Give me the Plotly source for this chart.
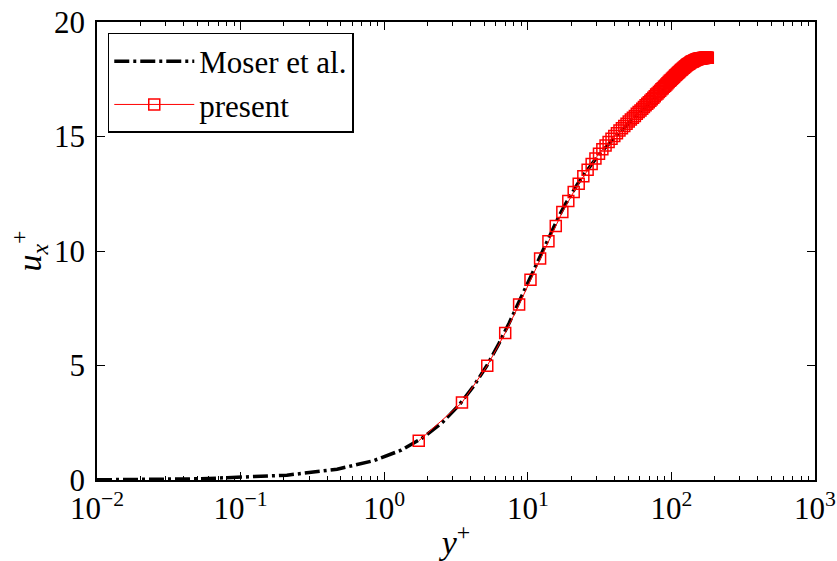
import plotly.graph_objects as go

# Reference DNS mean velocity profile (Moser, Kim & Mansour, Re_tau = 180)
moser_yplus = [0.01, 0.053, 0.21, 0.47, 0.84, 1.31, 1.88, 2.56, 3.34, 4.21, 5.18, 6.25,
               7.42, 8.67, 10.0, 11.4, 13.0, 14.6, 16.3, 18.1, 20.0, 22.0, 24.0, 26.1,
               28.3, 30.5, 32.8, 35.2, 37.6, 40.1, 42.6, 45.2, 47.8, 50.5, 53.2, 56.0,
               58.8, 61.6, 64.5, 67.3, 70.2, 73.2, 76.1, 79.1, 82.1, 85.1, 88.1, 91.1,
               94.1, 97.2, 100.2, 103.2, 106.2, 109.3, 112.3, 115.3, 118.3, 121.3, 124.2,
               127.2, 130.1, 133.0, 135.9, 138.7, 141.5, 144.2, 147.0, 149.6, 152.3, 154.9,
               157.4, 159.9, 162.3, 164.7, 167.0, 169.2, 171.4, 173.4, 175.4, 177.4, 178.1]
moser_uplus = [0.01, 0.053, 0.21, 0.47, 0.84, 1.30, 1.87, 2.53, 3.29, 4.11, 4.99, 5.92,
               6.86, 7.77, 8.63, 9.44, 10.19, 10.86, 11.46, 12.00, 12.47, 12.89, 13.25, 13.57,
               13.86, 14.12, 14.35, 14.57, 14.77, 14.95, 15.12, 15.28, 15.43, 15.57, 15.71, 15.84,
               15.97, 16.09, 16.21, 16.33, 16.44, 16.55, 16.66, 16.77, 16.87, 16.97, 17.07, 17.16,
               17.25, 17.34, 17.42, 17.50, 17.58, 17.65, 17.72, 17.79, 17.85, 17.91, 17.97,
               18.02, 18.07, 18.11, 18.15, 18.18, 18.21, 18.24, 18.26, 18.28, 18.30, 18.31,
               18.32, 18.33, 18.34, 18.35, 18.35, 18.36, 18.36, 18.36, 18.36, 18.36, 18.36]

# Present simulation, uniform wall-normal grid
present_yplus = [1.74, 3.48, 5.22, 6.96, 8.70, 10.44, 12.18, 13.92, 15.66, 17.40,
                 19.14, 20.88, 22.62, 24.36, 26.10, 27.84, 29.58, 31.32, 33.06, 34.80,
                 36.54, 38.28, 40.02, 41.76, 43.50, 45.24, 46.98, 48.72, 50.46, 52.20,
                 53.94, 55.68, 57.42, 59.16, 60.90, 62.64, 64.38, 66.12, 67.86, 69.60,
                 71.34, 73.08, 74.82, 76.56, 78.30, 80.04, 81.78, 83.52, 85.26, 87.00,
                 88.74, 90.48, 92.22, 93.96, 95.70, 97.44, 99.18, 100.92, 102.66, 104.40,
                 106.14, 107.88, 109.62, 111.36, 113.10, 114.84, 116.58, 118.32, 120.06, 121.80,
                 123.54, 125.28, 127.02, 128.76, 130.50, 132.24, 133.98, 135.72, 137.46, 139.20,
                 140.94, 142.68, 144.42, 146.16, 147.90, 149.64, 151.38, 153.12, 154.86, 156.60,
                 158.34, 160.08, 161.82, 163.56, 165.30, 167.04, 168.78, 170.52, 172.26, 174.00,
                 175.74, 177.48, 179.22]
present_uplus = [1.71, 3.38, 4.99, 6.42, 7.66, 8.74, 9.67, 10.43, 11.09, 11.70,
                 12.18, 12.58, 12.94, 13.26, 13.55, 13.80, 14.04, 14.25, 14.44, 14.61,
                 14.76, 14.90, 15.02, 15.14, 15.26, 15.36, 15.46, 15.56, 15.65, 15.74,
                 15.82, 15.90, 15.99, 16.07, 16.14, 16.21, 16.29, 16.36, 16.43, 16.50,
                 16.56, 16.63, 16.69, 16.76, 16.83, 16.88, 16.94, 17.00, 17.06, 17.11,
                 17.17, 17.22, 17.27, 17.33, 17.38, 17.43, 17.47, 17.52, 17.57, 17.61,
                 17.66, 17.70, 17.74, 17.78, 17.82, 17.86, 17.90, 17.93, 17.97, 18.00,
                 18.04, 18.07, 18.10, 18.13, 18.16, 18.18, 18.20, 18.23, 18.25, 18.27,
                 18.28, 18.30, 18.32, 18.33, 18.35, 18.36, 18.37, 18.38, 18.39, 18.40,
                 18.41, 18.41, 18.42, 18.42, 18.43, 18.43, 18.43, 18.44, 18.44, 18.44,
                 18.44, 18.44, 18.44]

x_major = [1e-2, 1e-1, 1e0, 1e1, 1e2, 1e3]
x_major_text = ["10<sup>−2</sup>", "10<sup>−1</sup>", "10<sup>0</sup>",
                "10<sup>1</sup>", "10<sup>2</sup>", "10<sup>3</sup>"]
y_major = [0, 5, 10, 15, 20]

x_minor = [m * d for d in [1e-2, 1e-1, 1e0, 1e1, 1e2] for m in range(2, 10)]

FONT = "Liberation Serif"

fig = go.Figure()
fig.add_trace(go.Scatter(
    x=moser_yplus, y=moser_uplus, mode="lines", name="Moser et al.",
    legendgroup="moser",
    line=dict(color="black", width=3.5, dash="15px,4px,3px,4px"),
))
fig.add_trace(go.Scatter(
    x=present_yplus, y=present_uplus, mode="lines+markers", name="present",
    legendgroup="present",
    line=dict(color="red", width=1),
    marker=dict(symbol="square-open", size=11, color="red", line=dict(width=1.5)),
))

axis_common = dict(
    showline=True, linecolor="black", linewidth=1.5, mirror="allticks",
    ticks="inside", ticklen=8, tickwidth=1.2, tickcolor="black",
    showgrid=False, zeroline=False, automargin=False,
    ticklabeloverflow="allow",
    tickfont=dict(family=FONT, size=31, color="black"),
)

fig.update_xaxes(
    type="log", range=[-2, 3],
    tickmode="array", tickvals=x_major, ticktext=x_major_text,
    minor=dict(tickmode="array", tickvals=x_minor, ticks="inside", ticklen=4,
               tickwidth=1, tickcolor="black"),
    title=dict(text="<i>y</i><sup>+</sup>", font=dict(family=FONT, size=34, color="black"),
               standoff=6),
    **axis_common,
)
fig.update_yaxes(
    range=[0, 20], tickmode="array", tickvals=y_major,
    ticklabelstandoff=4,
    title=dict(text="<i>u</i><sub><i>x</i></sub><sup>+</sup>",
               font=dict(family=FONT, size=34, color="black"), standoff=2),
    **axis_common,
)

fig.update_layout(
    width=837, height=561,
    margin=dict(l=97, r=22, t=22, b=81),
    paper_bgcolor="white", plot_bgcolor="white",
    showlegend=True,
    legend=dict(
        x=0.015, y=0.976, xanchor="left", yanchor="top",
        bgcolor="white", bordercolor="black", borderwidth=1.5,
        font=dict(family=FONT, size=31, color="black"),
        itemwidth=80, tracegroupgap=0,
    ),
)

fig.write_html("out.html")
